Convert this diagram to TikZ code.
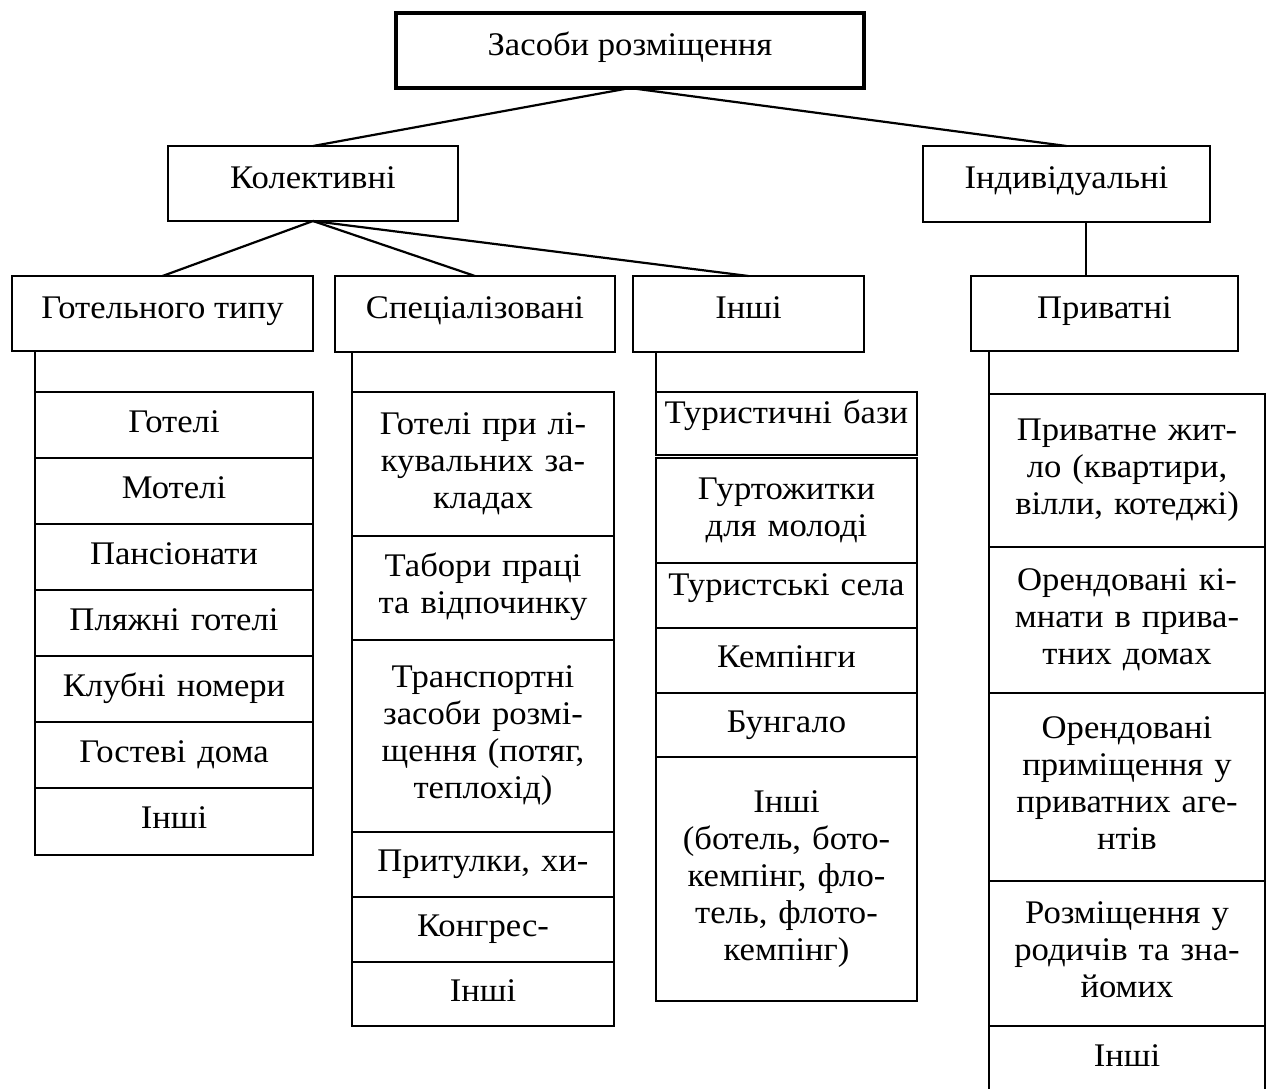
\documentclass[tikz,border=0pt]{standalone}
\usepackage{fontspec}
\setmainfont[FakeStretch=1.05]{Liberation Serif}
\begin{document}
\begin{tikzpicture}[x=1pt,y=-1pt,
  box/.style={draw, line width=2.2pt, rectangle, inner sep=0pt, outer sep=0pt,
    font=\fontsize{33}{37}\selectfont},
  hdr/.style={box, text height=24pt, text depth=15pt},
  cell/.style={box, anchor=north west, align=center,
    execute at begin node=\strut, execute at end node=\strut},
  colA/.style={cell, minimum width=278pt, text width=270pt},
  colB/.style={cell, minimum width=262pt, text width=256pt},
  colC/.style={cell, minimum width=261pt, text width=256pt},
  colD/.style={cell, minimum width=276pt, text width=270pt},
  raised/.style={execute at begin node={}, execute at end node={},
    text height=20pt, text depth=21pt},
  link/.style={line width=2.2pt}]
\useasboundingbox (0,0) rectangle (1266,1088);

% ---- headers ----
\node[hdr, line width=3.6pt, minimum width=468pt, minimum height=75pt] (top) at (630,50.5) {Засоби розміщення};
\node[hdr, minimum width=290pt, minimum height=75pt] (kol) at (313,183.5) {Колективні};
\node[hdr, minimum width=287pt, minimum height=76pt] (ind) at (1066.5,184) {Індивідуальні};
\node[hdr, minimum width=301pt, minimum height=75pt] (hotel) at (162.5,313.5) {Готельного типу};
\node[hdr, minimum width=280pt, minimum height=76pt] (spec) at (475,314) {Спеціалізовані};
\node[hdr, minimum width=231pt, minimum height=76pt] (other) at (748.5,314) {Інші};
\node[hdr, minimum width=267pt, minimum height=75pt] (priv) at (1104.5,313.5) {Приватні};

% ---- hotel-type list ----
\node[colA, minimum height=66pt] (a1) at (35,392) {Готелі};
\node[colA, minimum height=66pt] (a2) at (35,458) {Мотелі};
\node[colA, minimum height=66pt] (a3) at (35,524) {Пансіонати};
\node[colA, minimum height=66pt] (a4) at (35,590) {Пляжні готелі};
\node[colA, minimum height=66pt] (a5) at (35,656) {Клубні номери};
\node[colA, minimum height=66pt] (a6) at (35,722) {Гостеві дома};
\node[colA, minimum height=67pt] (a7) at (35,788) {Інші};

% ---- specialised list ----
\node[colB, minimum height=144pt] (b1) at (352,392) {Готелі при лі-\\кувальних за-\\кладах};
\node[colB, minimum height=104pt] (b2) at (352,536) {Табори праці\\та відпочинку};
\node[colB, minimum height=192pt] (b3) at (352,640) {Транспортні\\засоби розмі-\\щення (потяг,\\теплохід)};
\node[colB, minimum height=65pt] (b4) at (352,832) {Притулки, хи-};
\node[colB, minimum height=65pt] (b5) at (352,897) {Конгрес-};
\node[colB, minimum height=64pt] (b6) at (352,962) {Інші};

% ---- other collective list ----
\node[colC, raised, minimum height=63pt] (c1) at (656,392) {Туристичні бази};
\node[colC, minimum height=105pt] (c2) at (656,458) {Гуртожитки\\для молоді};
\node[colC, raised, minimum height=65pt] (c3) at (656,563) {Туристські села};
\node[colC, minimum height=65pt] (c4) at (656,628) {Кемпінги};
\node[colC, minimum height=64pt] (c5) at (656,693) {Бунгало};
\node[colC, minimum height=244pt] (c6) at (656,757) {Інші\\(ботель, бото-\\кемпінг, фло-\\тель, флото-\\кемпінг)};

% ---- private list ----
\node[colD, minimum height=153pt] (d1) at (989,394) {Приватне жит-\\ло (квартири,\\вілли, котеджі)};
\node[colD, minimum height=146pt] (d2) at (989,547) {Орендовані кі-\\мнати в прива-\\тних домах};
\node[colD, minimum height=188pt] (d3) at (989,693) {Орендовані\\приміщення у\\приватних аге-\\нтів};
\node[colD, minimum height=145pt] (d4) at (989,881) {Розміщення у\\родичів та зна-\\йомих};
\node[colD, minimum height=66pt] (d5) at (989,1026) {Інші};

% ---- connectors ----
\coordinate (pv) at (1086,0);
\draw[link] (top.south) -- (kol.north);
\draw[link] (top.south) -- (ind.north);
\draw[link] (kol.south) -- (hotel.north);
\draw[link] (kol.south) -- (spec.north);
\draw[link] (kol.south) -- (other.north);
\draw[link] (ind.south -| pv) -- (priv.north -| pv);
\draw[link] (hotel.south -| a1.north west) -- (a1.north west);
\draw[link] (spec.south -| b1.north west) -- (b1.north west);
\draw[link] (other.south -| c1.north west) -- (c1.north west);
\draw[link] (priv.south -| d1.north west) -- (d1.north west);
\end{tikzpicture}
\end{document}
